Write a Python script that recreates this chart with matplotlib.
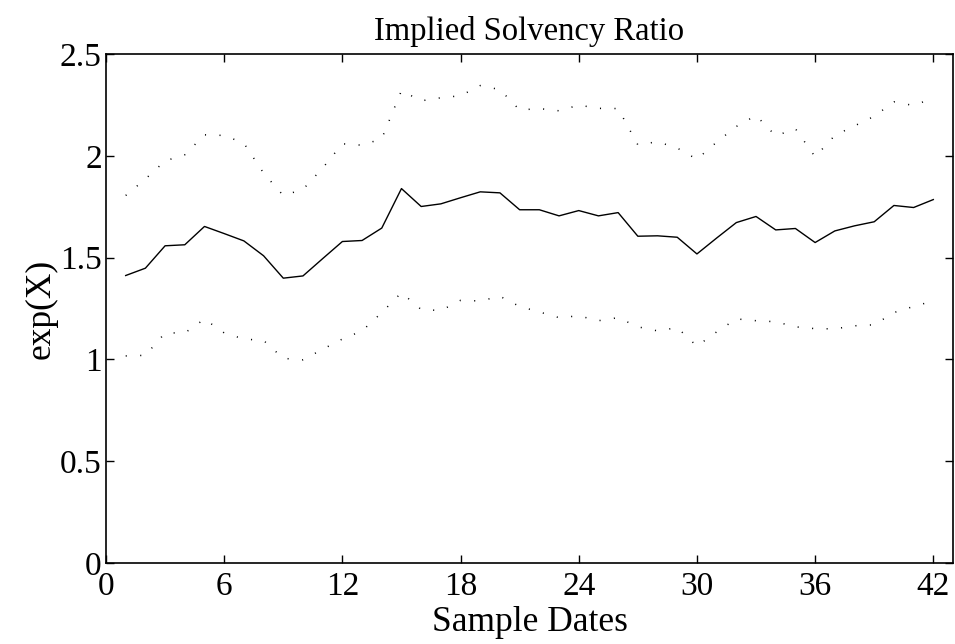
import matplotlib
matplotlib.use('Agg')
import matplotlib.pyplot as plt

plt.rcParams['font.family'] = ['Liberation Serif', 'DejaVu Serif']

# Sample dates 1..42
dates = list(range(1, 43))

# Mean implied solvency ratio (solid)
ratio = [1.412, 1.448, 1.558, 1.563, 1.653, 1.618, 1.582, 1.509, 1.399, 1.410,
         1.495, 1.579, 1.584, 1.645, 1.839, 1.751, 1.764, 1.794, 1.823, 1.818,
         1.735, 1.735, 1.705, 1.731, 1.705, 1.721, 1.605, 1.607, 1.600, 1.518,
         1.596, 1.672, 1.702, 1.636, 1.643, 1.574, 1.631, 1.656, 1.676, 1.756,
         1.746, 1.785]

# Upper band (dotted)
upper = [1.805, 1.886, 1.975, 2.005, 2.103, 2.100, 2.062, 1.915, 1.805, 1.835,
         1.940, 2.059, 2.052, 2.084, 2.320, 2.270, 2.285, 2.295, 2.345, 2.325,
         2.225, 2.232, 2.221, 2.249, 2.233, 2.232, 2.054, 2.069, 2.038, 1.983,
         2.067, 2.144, 2.198, 2.098, 2.133, 1.995, 2.100, 2.147, 2.194, 2.265,
         2.247, 2.284]

# Lower band (dotted)
lower = [1.017, 1.020, 1.130, 1.130, 1.198, 1.130, 1.100, 1.093, 1.005, 0.998,
         1.050, 1.100, 1.140, 1.230, 1.328, 1.245, 1.240, 1.290, 1.287, 1.310,
         1.260, 1.233, 1.205, 1.214, 1.190, 1.205, 1.160, 1.140, 1.156, 1.065,
         1.135, 1.199, 1.190, 1.185, 1.160, 1.151, 1.150, 1.165, 1.170, 1.230,
         1.260, 1.287]

xticks = [0, 6, 12, 18, 24, 30, 36, 42]
yticks = [0, 0.5, 1, 1.5, 2, 2.5]
yticklabels = ['0', '0.5', '1', '1.5', '2', '2.5']

fig = plt.figure(figsize=(9.55, 6.44), dpi=100)
ax = fig.add_axes([106/955, 1 - 563/644, 847/955, 509/644])

dots = (0, (0.7, 8.8))
ax.plot(dates, upper, color='black', lw=1.1, linestyle=dots)
ax.plot(dates, ratio, color='black', lw=1.0)
ax.plot(dates, lower, color='black', lw=1.1, linestyle=dots)

ax.set_xlim(0, 43)
ax.set_ylim(0, 2.5)
ax.set_xticks(xticks)
ax.set_yticks(yticks)
ax.set_yticklabels(yticklabels)

ax.tick_params(direction='in', top=True, right=True, length=6, width=1.0,
               labelsize=24)
ax.tick_params(axis='x', pad=6)
ax.tick_params(axis='y', pad=3)
for s in ax.spines.values():
    s.set_linewidth(1.2)

ax.set_xlabel('Sample Dates', fontsize=25.5, labelpad=3)
ax.set_ylabel('exp(X)', fontsize=25.5, labelpad=2)
ax.set_title('Implied Solvency Ratio', fontsize=23.5, pad=10)

fig.savefig('out.png', dpi=100)
